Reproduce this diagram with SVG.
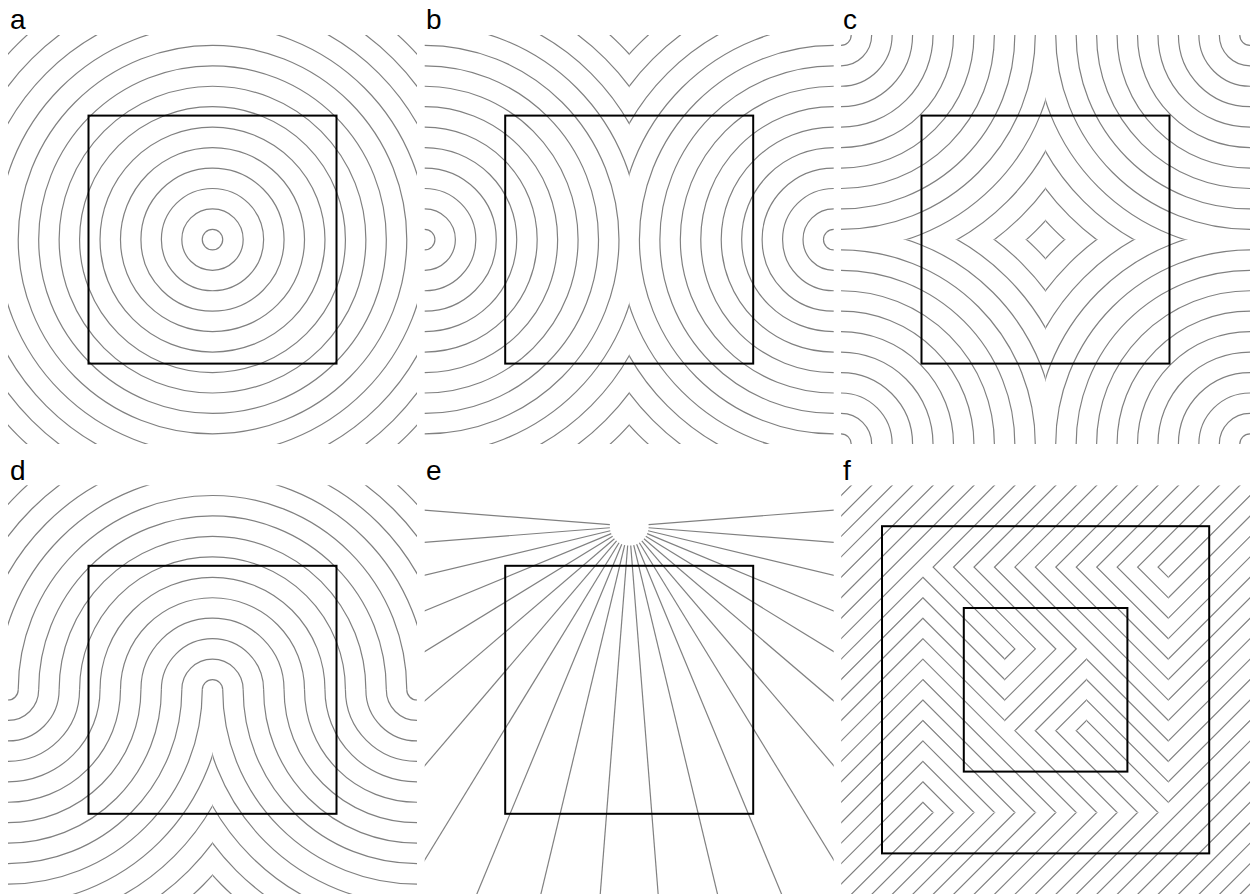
<svg xmlns="http://www.w3.org/2000/svg" width="1254" height="894" viewBox="0 0 1254 894">
<style>
.g, .g *{fill:none;stroke:#808080;stroke-width:1.2;vector-effect:non-scaling-stroke}
.sq{fill:none;stroke:#000;stroke-width:2}
text{font-family:"Liberation Sans",Arial,Helvetica,sans-serif;font-size:28px;fill:#000}
</style>
<defs>
<g id="rings" class="g">
<circle r="0.5"/><circle r="1.5"/><circle r="2.5"/><circle r="3.5"/><circle r="4.5"/><circle r="5.5"/><circle r="6.5"/><circle r="7.5"/><circle r="8.5"/><circle r="9.5"/><circle r="10.5"/><circle r="11.5"/><circle r="12.5"/><circle r="13.5"/>
</g>
<path id="ray" class="g" d="M0,-0.95V-30"/>
<clipPath id="reg"><rect x="-10" y="-10" width="20" height="20"/></clipPath>
<clipPath id="L"><rect x="-10" y="-10" width="10" height="20"/></clipPath>
<clipPath id="R"><rect x="0" y="-10" width="10" height="20"/></clipPath>
<clipPath id="UH"><rect x="-10" y="0" width="20" height="10"/></clipPath>
<clipPath id="UL"><rect x="-10" y="0" width="10" height="10"/></clipPath>
<clipPath id="UR"><rect x="0" y="0" width="10" height="10"/></clipPath>
<clipPath id="LL"><rect x="-10" y="-10" width="10" height="10"/></clipPath>
<clipPath id="LR"><rect x="0" y="-10" width="10" height="10"/></clipPath>
<clipPath id="fA"><path clip-rule="evenodd" d="M-10,-10H10V10H-10Z M-6,-6H6V6H-6Z M-2,-2H2V2H-2Z"/></clipPath>
<clipPath id="fB"><path clip-rule="evenodd" d="M-6,-6H6V6H-6Z M-2,-2H2V2H-2Z"/></clipPath>
</defs>

<g id="panel-a">
<g transform="translate(212.5,239.6) scale(20.45,-20.45)">
<g clip-path="url(#reg)"><use href="#rings"/></g>
</g>
<rect class="sq" x="88.5" y="115.6" width="248" height="248"/>
<text x="10" y="29">a</text>
</g>

<g id="panel-b">
<g transform="translate(629.2,239.6) scale(20.45,-20.45)">
<g clip-path="url(#L)"><use href="#rings" x="-10" y="0"/></g>
<g clip-path="url(#R)"><use href="#rings" x="10" y="0"/></g>
</g>
<rect class="sq" x="505.2" y="115.6" width="248" height="248"/>
<text x="426" y="29">b</text>
</g>

<g id="panel-c">
<g transform="translate(1045.5,239.6) scale(20.45,-20.45)">
<g clip-path="url(#UL)"><use href="#rings" x="-10" y="10"/></g>
<g clip-path="url(#UR)"><use href="#rings" x="10" y="10"/></g>
<g clip-path="url(#LL)"><use href="#rings" x="-10" y="-10"/></g>
<g clip-path="url(#LR)"><use href="#rings" x="10" y="-10"/></g>
</g>
<rect class="sq" x="921.5" y="115.6" width="248" height="248"/>
<text x="843" y="29">c</text>
</g>

<g id="panel-d">
<g transform="translate(212.5,689.8) scale(20.45,-20.45)">
<g clip-path="url(#UH)"><use href="#rings"/></g>
<g clip-path="url(#LL)"><use href="#rings" x="-10" y="0"/></g>
<g clip-path="url(#LR)"><use href="#rings" x="10" y="0"/></g>
</g>
<rect class="sq" x="88.5" y="565.8" width="248" height="248"/>
<text x="10" y="480">d</text>
</g>

<g id="panel-e">
<g transform="translate(629.2,689.8) scale(20.45,-20.45)">
<g clip-path="url(#reg)">
<g transform="translate(0,8)">
<use href="#ray" transform="rotate(4.5)"/><use href="#ray" transform="rotate(-4.5)"/>
<use href="#ray" transform="rotate(13.5)"/><use href="#ray" transform="rotate(-13.5)"/>
<use href="#ray" transform="rotate(22.5)"/><use href="#ray" transform="rotate(-22.5)"/>
<use href="#ray" transform="rotate(31.5)"/><use href="#ray" transform="rotate(-31.5)"/>
<use href="#ray" transform="rotate(40.5)"/><use href="#ray" transform="rotate(-40.5)"/>
<use href="#ray" transform="rotate(49.5)"/><use href="#ray" transform="rotate(-49.5)"/>
<use href="#ray" transform="rotate(58.5)"/><use href="#ray" transform="rotate(-58.5)"/>
<use href="#ray" transform="rotate(67.5)"/><use href="#ray" transform="rotate(-67.5)"/>
<use href="#ray" transform="rotate(76.5)"/><use href="#ray" transform="rotate(-76.5)"/>
<use href="#ray" transform="rotate(85.5)"/><use href="#ray" transform="rotate(-85.5)"/>
<use href="#ray" transform="rotate(94.5)"/><use href="#ray" transform="rotate(-94.5)"/>
</g>
</g>
</g>
<rect class="sq" x="505.2" y="565.8" width="248" height="248"/>
<text x="426" y="480">e</text>
</g>

<g id="panel-f">
<g transform="translate(1045.6,689.8) scale(20.45,-20.45)">
<g clip-path="url(#fA)">
<path class="g" d="M-31.5,-12l24,24M-30.5,-12l24,24M-29.5,-12l24,24M-28.5,-12l24,24M-27.5,-12l24,24M-26.5,-12l24,24M-25.5,-12l24,24M-24.5,-12l24,24M-23.5,-12l24,24M-22.5,-12l24,24M-21.5,-12l24,24M-20.5,-12l24,24M-19.5,-12l24,24M-18.5,-12l24,24M-17.5,-12l24,24M-16.5,-12l24,24M-15.5,-12l24,24M-14.5,-12l24,24M-13.5,-12l24,24M-12.5,-12l24,24M-11.5,-12l24,24M-10.5,-12l24,24M-9.5,-12l24,24M-8.5,-12l24,24M-7.5,-12l24,24M-6.5,-12l24,24M-5.5,-12l24,24M-4.5,-12l24,24M-3.5,-12l24,24M-2.5,-12l24,24M-1.5,-12l24,24M-0.5,-12l24,24M0.5,-12l24,24M1.5,-12l24,24M2.5,-12l24,24M3.5,-12l24,24M4.5,-12l24,24M5.5,-12l24,24M6.5,-12l24,24M7.5,-12l24,24"/>
</g>
<g clip-path="url(#fB)">
<path class="g" d="M-31.5,12l24,-24M-30.5,12l24,-24M-29.5,12l24,-24M-28.5,12l24,-24M-27.5,12l24,-24M-26.5,12l24,-24M-25.5,12l24,-24M-24.5,12l24,-24M-23.5,12l24,-24M-22.5,12l24,-24M-21.5,12l24,-24M-20.5,12l24,-24M-19.5,12l24,-24M-18.5,12l24,-24M-17.5,12l24,-24M-16.5,12l24,-24M-15.5,12l24,-24M-14.5,12l24,-24M-13.5,12l24,-24M-12.5,12l24,-24M-11.5,12l24,-24M-10.5,12l24,-24M-9.5,12l24,-24M-8.5,12l24,-24M-7.5,12l24,-24M-6.5,12l24,-24M-5.5,12l24,-24M-4.5,12l24,-24M-3.5,12l24,-24M-2.5,12l24,-24M-1.5,12l24,-24M-0.5,12l24,-24M0.5,12l24,-24M1.5,12l24,-24M2.5,12l24,-24M3.5,12l24,-24M4.5,12l24,-24M5.5,12l24,-24M6.5,12l24,-24M7.5,12l24,-24"/>
</g>
</g>
<rect class="sq" x="882" y="526.2" width="327.2" height="327.2"/>
<rect class="sq" x="963.8" y="608" width="163.6" height="163.6"/>
<text x="843" y="480">f</text>
</g>
</svg>
